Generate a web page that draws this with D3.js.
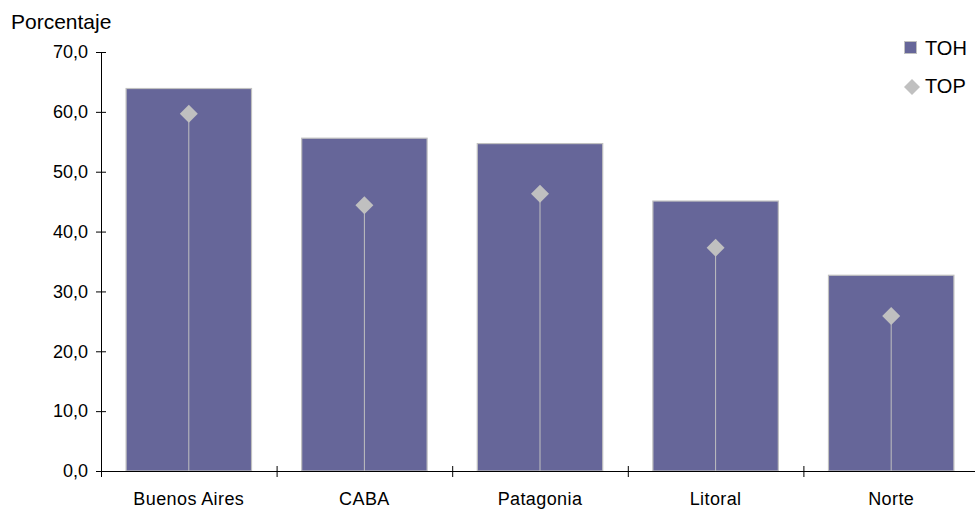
<!DOCTYPE html>
<html lang="es">
<head>
  <meta charset="UTF-8">
  <title>TOH y TOP por región</title>
  <script src="https://d3js.org/d3.v7.min.js"></script>
  <style>
    body { margin: 0; background: #fff; }
    text { font-family: "Liberation Sans", Arial, sans-serif; fill: #000; }
    .axis path, .axis line { stroke: #000; }
  </style>
</head>
<body>
  <div id="chart"></div>
  <script>
    // datos
    const regiones = ["Buenos Aires", "CABA", "Patagonia", "Litoral", "Norte"];
    const valoresTOH = [63.9, 55.6, 54.7, 45.1, 32.7];
    const valoresTOP = [59.7, 44.4, 46.3, 37.3, 25.9];
    const yTicks = [0, 10, 20, 30, 40, 50, 60, 70];

    const width = 975, height = 511;
    const left = 101, right = 979, bottom = 471, topY = 52;

    const svg = d3.select("#chart").append("svg")
      .attr("width", width)
      .attr("height", height);

    const x = d3.scaleBand()
      .domain(regiones)
      .range([left, right])
      .paddingInner(0.28)
      .paddingOuter(0.14);

    const y = d3.scaleLinear()
      .domain([0, 70])
      .range([bottom, topY]);

    // barras TOH
    svg.append("g").selectAll("rect")
      .data(regiones)
      .join("rect")
      .attr("x", d => x(d) + 0.5)
      .attr("y", (d, i) => y(valoresTOH[i]))
      .attr("width", x.bandwidth() - 1)
      .attr("height", (d, i) => y(0) - y(valoresTOH[i]))
      .attr("fill", "#666699")
      .attr("stroke", "#c0c0c0")
      .attr("stroke-width", 1.2);

    // lineas verticales de TOP
    const cx = d => x(d) + x.bandwidth() / 2;
    svg.append("g").selectAll("line")
      .data(regiones)
      .join("line")
      .attr("x1", cx)
      .attr("x2", cx)
      .attr("y1", (d, i) => y(valoresTOP[i]))
      .attr("y2", y(0))
      .attr("stroke", "#c0c0c0")
      .attr("stroke-width", 1);

    // rombos TOP
    const diamond = d3.symbol().type(d3.symbolDiamond2).size(206);
    svg.append("g").selectAll("path")
      .data(regiones)
      .join("path")
      .attr("transform", (d, i) => `translate(${cx(d)},${y(valoresTOP[i])})`)
      .attr("d", diamond)
      .attr("fill", "#c0c0c0");

    // eje Y
    svg.append("g")
      .attr("class", "axis")
      .attr("transform", `translate(${left},0)`)
      .call(d3.axisLeft(y)
        .tickValues(yTicks)
        .tickSize(5)
        .tickPadding(8)
        .tickFormat(d => d3.format(".1f")(d).replace(".", ",")))
      .call(g => g.select(".domain").attr("d", `M0.5,${topY}V${bottom}`))
      .call(g => g.selectAll(".tick line").attr("x1", 5).attr("x2", -5))
      .call(g => g.selectAll(".tick text").attr("font-size", 18).attr("font-family", null));

    // eje X
    const xTickPos = d3.range(regiones.length + 1).map(i => left + i * x.step());
    const xg = svg.append("g").attr("class", "axis");
    xg.append("line")
      .attr("x1", left).attr("x2", width)
      .attr("y1", bottom + 0.5).attr("y2", bottom + 0.5)
      .attr("stroke", "#000");
    xg.selectAll(".xt")
      .data(xTickPos)
      .join("line")
      .attr("class", "xt")
      .attr("x1", d => d + 0.5).attr("x2", d => d + 0.5)
      .attr("y1", bottom - 5).attr("y2", bottom + 6)
      .attr("stroke", "#000");
    xg.selectAll(".xl")
      .data(regiones)
      .join("text")
      .attr("class", "xl")
      .attr("x", cx)
      .attr("y", bottom + 34)
      .attr("text-anchor", "middle")
      .attr("font-size", 18)
      .attr("letter-spacing", 0.4)
      .text(d => d);

    // titulo del eje
    svg.append("text")
      .attr("x", 11)
      .attr("y", 29)
      .attr("font-size", 21)
      .text("Porcentaje");

    // leyenda
    const leg = svg.append("g");
    leg.append("rect")
      .attr("x", 904.5).attr("y", 41.5)
      .attr("width", 12).attr("height", 12)
      .attr("fill", "#666699")
      .attr("stroke", "#c0c0c0");
    leg.append("text")
      .attr("x", 925).attr("y", 55)
      .attr("font-size", 20)
      .text("TOH");
    leg.append("path")
      .attr("transform", "translate(912,87)")
      .attr("d", d3.symbol().type(d3.symbolDiamond2).size(163))
      .attr("fill", "#c0c0c0");
    leg.append("text")
      .attr("x", 925).attr("y", 93)
      .attr("font-size", 20)
      .text("TOP");
  </script>
</body>
</html>
